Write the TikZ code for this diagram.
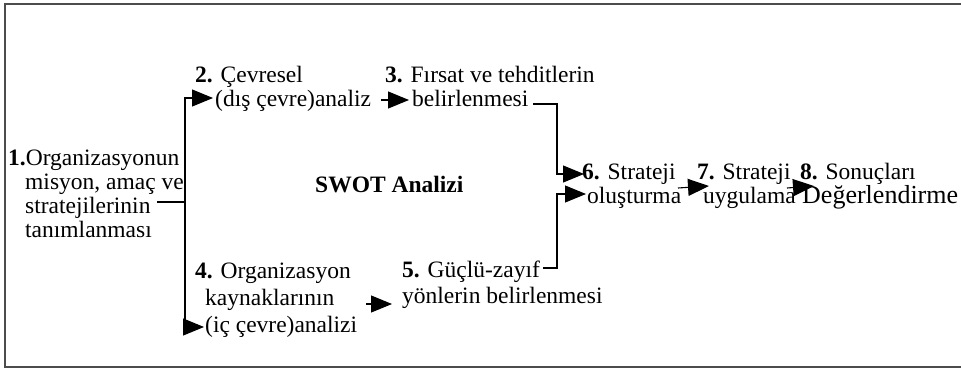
\documentclass[tikz,border=0pt]{standalone}
\usepackage{fontspec}
\setmainfont{Liberation Serif}
\usetikzlibrary{arrows.meta}

\tikzset{
  txt/.style={anchor=base west, align=left, inner sep=0pt, font=\fontsize{23.5}{24}\selectfont},
  arr/.style={line width=1.1pt, -{Triangle[length=21pt,width=17pt]}},
  ln/.style={line width=1.1pt}
}

\begin{document}
\begin{tikzpicture}[x=1pt,y=-1pt]
  \useasboundingbox (0,0) rectangle (961,370);
  \draw[black!70, line width=1.3pt] (961,4) -- (5,4) -- (5,367) -- (961,367);

  % nodes, placed at the baseline of their last line
  \node[txt] (org) at (8,237) {\textbf{1.}Organizasyonun\\\hspace*{17pt}misyon, amaç ve\\\hspace*{17pt}stratejilerinin\\\hspace*{17pt}tanımlanması};
  \node[txt] (cevre) at (195,106) {\textbf{2.} Çevresel\\\hspace*{20pt}(dış çevre)analiz};
  \node[txt] (firsat) at (385,106) {\textbf{3.} Fırsat ve tehditlerin\\\hspace*{27pt}belirlenmesi};
  \node[txt, font=\fontsize{23.5}{24}\selectfont\bfseries] (swot) at (315,192) {SWOT Analizi};
  \node[txt] (kaynak) at (195,332) {\textbf{4.} Organizasyon\\[3pt]\hspace*{10pt}kaynaklarının\\[3pt]\hspace*{10pt}(iç çevre)analizi};
  \node[txt] (guclu) at (402,303) {\textbf{5.} Güçlü-zayıf\\[2pt]yönlerin belirlenmesi};
  \node[txt] (olustur) at (582,203) {\textbf{6.} Strateji\\\hspace*{5pt}oluşturma};
  \node[txt] (uygula) at (697,203) {\textbf{7.} Strateji\\\hspace*{6pt}uygulama};
  \node[txt] (sonuc) at (800,203) {\textbf{8.} Sonuçları\\\hspace*{2pt}{\fontsize{26}{24}\selectfont Değerlendirme}};

  % junctions and arrow ends
  \coordinate (t1) at (157,202);
  \coordinate (j1) at (185,202);
  \coordinate (a2) at (213,98);
  \coordinate (a4) at (204,327);
  \coordinate (t2) at (381,100);
  \coordinate (a3) at (409,100);
  \coordinate (b3) at (533,104);
  \coordinate (k3) at (557,104);
  \coordinate (a6) at (584,174);
  \coordinate (t4) at (366,304);
  \coordinate (a5) at (392,304);
  \coordinate (b5) at (543,268);
  \coordinate (k5) at (557,268);
  \coordinate (a6b) at (586,194);
  \coordinate (t6) at (678,188);
  \coordinate (a7) at (709,186);
  \coordinate (t7) at (787,188);
  \coordinate (a8) at (814,186);

  \draw[ln] (t1) -- (j1);
  \draw[arr] (j1) |- (a2);
  \draw[arr] (j1) |- (a4);
  \draw[arr] (t2) -- (a3);
  \draw[arr] (b3) -- (k3) |- (a6);
  \draw[arr] (t4) -- (a5);
  \draw[arr] (b5) -- (k5) |- (a6b);
  \draw[arr] (t6) -- (a7);
  \draw[arr] (t7) -- (a8);
\end{tikzpicture}
\end{document}
